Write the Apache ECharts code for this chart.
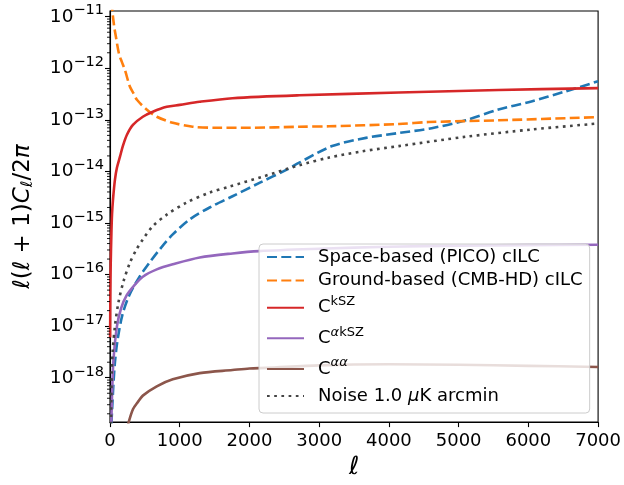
<!DOCTYPE html>
<html>
<head>
<meta charset="utf-8">
<script src="https://cdn.jsdelivr.net/npm/echarts@6/dist/echarts.min.js"></script>
<style>
html,body{margin:0;padding:0;background:#fff;}
#c{width:624px;height:485px;}
</style>
</head>
<body>
<div id="c"></div>
<script>
// ---- data ----
const picoL = [20, 35, 50, 71, 105, 176, 280, 429, 571, 714, 900, 1143, 1429, 1757, 2143, 2528, 2714, 3186, 3671, 4143, 4614, 5100, 5571, 6043, 6529, 7000];
const picoV = [1.3e-19, 3.2e-19, 7.9e-19, 2.0e-18, 5.0e-18, 1.62e-17, 4.07e-17, 9.3e-17, 1.74e-16, 3.09e-16, 6.0e-16, 1.17e-15, 2.0e-15, 3.3e-15, 6.0e-15, 1.07e-14, 1.48e-14, 3.1e-14, 4.47e-14, 5.56e-14, 6.9e-14, 9.8e-14, 1.58e-13, 2.27e-13, 3.55e-13, 5.6e-13];

const hdL = [25, 33, 57, 86, 129, 170, 214, 286, 343, 386, 529, 671, 900, 1186, 1529, 2000, 2714, 3143, 4143, 4571, 5571, 7000];
const hdV = [2.0e-11, 1.35e-11, 6.9e-12, 3.98e-12, 1.9e-12, 1.33e-12, 9.3e-13, 4.37e-13, 3.16e-13, 2.45e-13, 1.57e-13, 1.15e-13, 8.8e-14, 7.36e-14, 7.03e-14, 7.03e-14, 7.36e-14, 7.5e-14, 8.3e-14, 9.06e-14, 9.8e-14, 1.13e-13];

const kszL = [2, 5, 10, 20, 29, 43, 71, 100, 143, 186, 243, 329, 471, 614, 814, 1000, 1286, 1757, 2714, 4143, 5571, 7000];
const kszV = [6.0e-18, 3.9e-17, 1.55e-16, 6.2e-16, 1.46e-15, 2.85e-15, 6.94e-15, 1.19e-14, 1.93e-14, 3.16e-14, 5.15e-14, 8.0e-14, 1.15e-13, 1.44e-13, 1.79e-13, 1.95e-13, 2.24e-13, 2.63e-13, 2.99e-13, 3.39e-13, 3.80e-13, 4.12e-13];

const akszL = [19, 30, 50, 100, 160, 240, 340, 471, 671, 900, 1286, 1757, 2143, 3000, 4000, 5000, 6000, 7000];
const akszV = [1.38e-19, 5.0e-19, 2.24e-18, 1.0e-17, 2.24e-17, 3.98e-17, 6.0e-17, 9.1e-17, 1.26e-16, 1.58e-16, 2.14e-16, 2.57e-16, 2.85e-16, 3.16e-16, 3.47e-16, 3.63e-16, 3.72e-16, 3.8e-16];

const aaL = [260, 329, 400, 471, 671, 900, 1286, 1757, 2000, 2243, 3000, 4000, 5000, 6000, 7000];
const aaV = [1.26e-19, 2.45e-19, 3.4e-19, 4.5e-19, 6.8e-19, 9.3e-19, 1.23e-18, 1.41e-18, 1.51e-18, 1.55e-18, 1.74e-18, 1.82e-18, 1.78e-18, 1.70e-18, 1.62e-18];

const noiseL = [15, 25, 40, 71, 119, 190, 286, 381, 471, 614, 814, 1100, 1429, 1714, 2186, 2714, 3143, 3614, 4143, 5100, 6043, 7000];
const noiseV = [1.26e-19, 1.26e-18, 3.5e-18, 1.0e-17, 2.8e-17, 7.1e-17, 1.7e-16, 3.1e-16, 4.8e-16, 8.7e-16, 1.45e-15, 2.5e-15, 3.9e-15, 5.1e-15, 7.9e-15, 1.32e-14, 1.86e-14, 2.45e-14, 3.1e-14, 4.7e-14, 6.5e-14, 8.5e-14];

const seriesNames = ['Space-based (PICO) cILC', 'Ground-based (CMB-HD) cILC', 'CkSZ', 'CαkSZ', 'Cαα', 'Noise 1.0 μK arcmin'];
const yMin = 1.38e-19, yMax = 1.29e-11;
const minorMult = [2, 3, 4, 5, 6, 7, 8, 9];
const minorDecades = [-19, -18, -17, -16, -15, -14, -13, -12, -11];

function pairs(L, V) { return L.map((l, i) => [l, V[i]]); }
const minorVals = [];
minorDecades.forEach(d => minorMult.forEach(m => {
  const v = m * Math.pow(10, d);
  if (v > yMin && v < yMax) minorVals.push([0, v]);
}));

const FONT = 'DejaVu Sans';
const legendRich = {
  t: { fontSize: 18, fontFamily: FONT, color: '#000', lineHeight: 22 },
  ti: { fontSize: 18, fontFamily: FONT, fontStyle: 'italic', color: '#000', lineHeight: 22 },
  s: { fontSize: 13, fontFamily: FONT, color: '#000', lineHeight: 22, padding: [0, 0, 12, 0] },
  si: { fontSize: 13, fontFamily: FONT, fontStyle: 'italic', color: '#000', lineHeight: 22, padding: [0, 0, 12, 0] }
};
const legendText = {
  'Space-based (PICO) cILC': '{t|Space-based (PICO) cILC}',
  'Ground-based (CMB-HD) cILC': '{t|Ground-based (CMB-HD) cILC}',
  'CkSZ': '{t|C}{s|kSZ}',
  'CαkSZ': '{t|C}{si|α}{s|kSZ}',
  'Cαα': '{t|C}{si|αα}',
  'Noise 1.0 μK arcmin': '{t|Noise 1.0 }{ti|μ}{t|K arcmin}'
};

function lineSeries(name, L, V, color, type) {
  return {
    name: name, type: 'line', data: pairs(L, V), symbol: 'none', showSymbol: false,
    smooth: 0.3, clip: true,
    lineStyle: { color: color, width: 2.6, type: type, cap: 'butt', join: 'round' },
    itemStyle: { color: color },
    z: 3
  };
}

const chart = echarts.init(document.getElementById('c'), null, { renderer: 'canvas' });
chart.setOption({
  animation: false,
  backgroundColor: '#fff',
  grid: { left: 110, right: 24, top: 11, bottom: 62, show: true, borderColor: '#000', borderWidth: 1.1, backgroundColor: 'transparent' },
  xAxis: {
    type: 'value', min: 0, max: 7000, interval: 1000,
    name: 'ℓ', nameLocation: 'middle', nameGap: 30,
    nameTextStyle: { fontSize: 25, fontFamily: FONT, fontStyle: 'italic', color: '#000' },
    axisLine: { show: true, lineStyle: { color: '#000', width: 1.1 } },
    axisTick: { show: true, length: 5, inside: false, lineStyle: { color: '#000', width: 1.1 } },
    axisLabel: { fontSize: 18, fontFamily: FONT, color: '#000', margin: 10, formatter: function (v) { return String(v); } },
    splitLine: { show: false }
  },
  yAxis: {
    type: 'log', logBase: 10, min: yMin, max: yMax, splitNumber: 8,
    name: '{i|ℓ}{n|(}{i|ℓ}{n| + 1)}{i|C}{sub|ℓ}{n|/2}{i|π}',
    nameLocation: 'middle', nameGap: 74, nameRotate: 90,
    nameTextStyle: {
      fontSize: 23, fontFamily: FONT, color: '#000',
      rich: {
        i: { fontSize: 23, fontFamily: FONT, fontStyle: 'italic', color: '#000' },
        n: { fontSize: 23, fontFamily: FONT, color: '#000' },
        sub: { fontSize: 16, fontFamily: FONT, fontStyle: 'italic', color: '#000', padding: [10, 0, 0, 0] }
      }
    },
    axisLine: { show: true, lineStyle: { color: '#000', width: 1.1 } },
    axisTick: { show: true, length: 5, inside: false, lineStyle: { color: '#000', width: 1.1 } },
    axisLabel: {
      margin: 6, showMinLabel: false, showMaxLabel: false,
      formatter: function (v) {
        const lg = Math.log10(v);
        const n = Math.round(lg);
        if (Math.abs(lg - n) > 1e-6) return '';
        return '{b|10}{s|\u2212' + Math.abs(n) + '}';
      },
      rich: {
        b: { fontSize: 18.5, fontFamily: FONT, color: '#000' },
        s: { fontSize: 14.5, fontFamily: FONT, color: '#000', padding: [0, 0, 12, 0] }
      }
    },
    splitLine: { show: false }
  },
  legend: {
    data: seriesNames,
    left: 259, top: 244, orient: 'vertical',
    padding: [4, 7, 8, 7],
    itemWidth: 37, itemHeight: 22, itemGap: 5.6,
    itemStyle: { opacity: 0 },
    backgroundColor: 'rgba(255,255,255,0.8)', borderColor: '#cccccc', borderWidth: 1, borderRadius: 4,
    formatter: function (name) { return legendText[name]; },
    textStyle: { fontSize: 18, fontFamily: FONT, color: '#000', rich: legendRich, padding: [0, 0, 0, 9] },
    z: 5
  },
  series: [
    lineSeries(seriesNames[0], picoL, picoV, '#1f77b4', [10, 4.3]),
    lineSeries(seriesNames[1], hdL, hdV, '#ff7f0e', [10, 4.3]),
    lineSeries(seriesNames[2], kszL, kszV, '#d62728', 'solid'),
    lineSeries(seriesNames[3], akszL, akszV, '#9467bd', 'solid'),
    lineSeries(seriesNames[4], aaL, aaV, '#8c564b', 'solid'),
    lineSeries(seriesNames[5], noiseL, noiseV, '#444444', [2.7, 4.5]),
    {
      name: 'minorTicks', type: 'custom', silent: true, clip: false, z: 4,
      data: minorVals,
      renderItem: function (params, api) {
        const p = api.coord([api.value(0), api.value(1)]);
        return { type: 'line', shape: { x1: p[0] - 3, y1: p[1], x2: p[0], y2: p[1] }, style: { stroke: '#000', lineWidth: 0.9 } };
      }
    }
  ]
});
</script>
</body>
</html>
